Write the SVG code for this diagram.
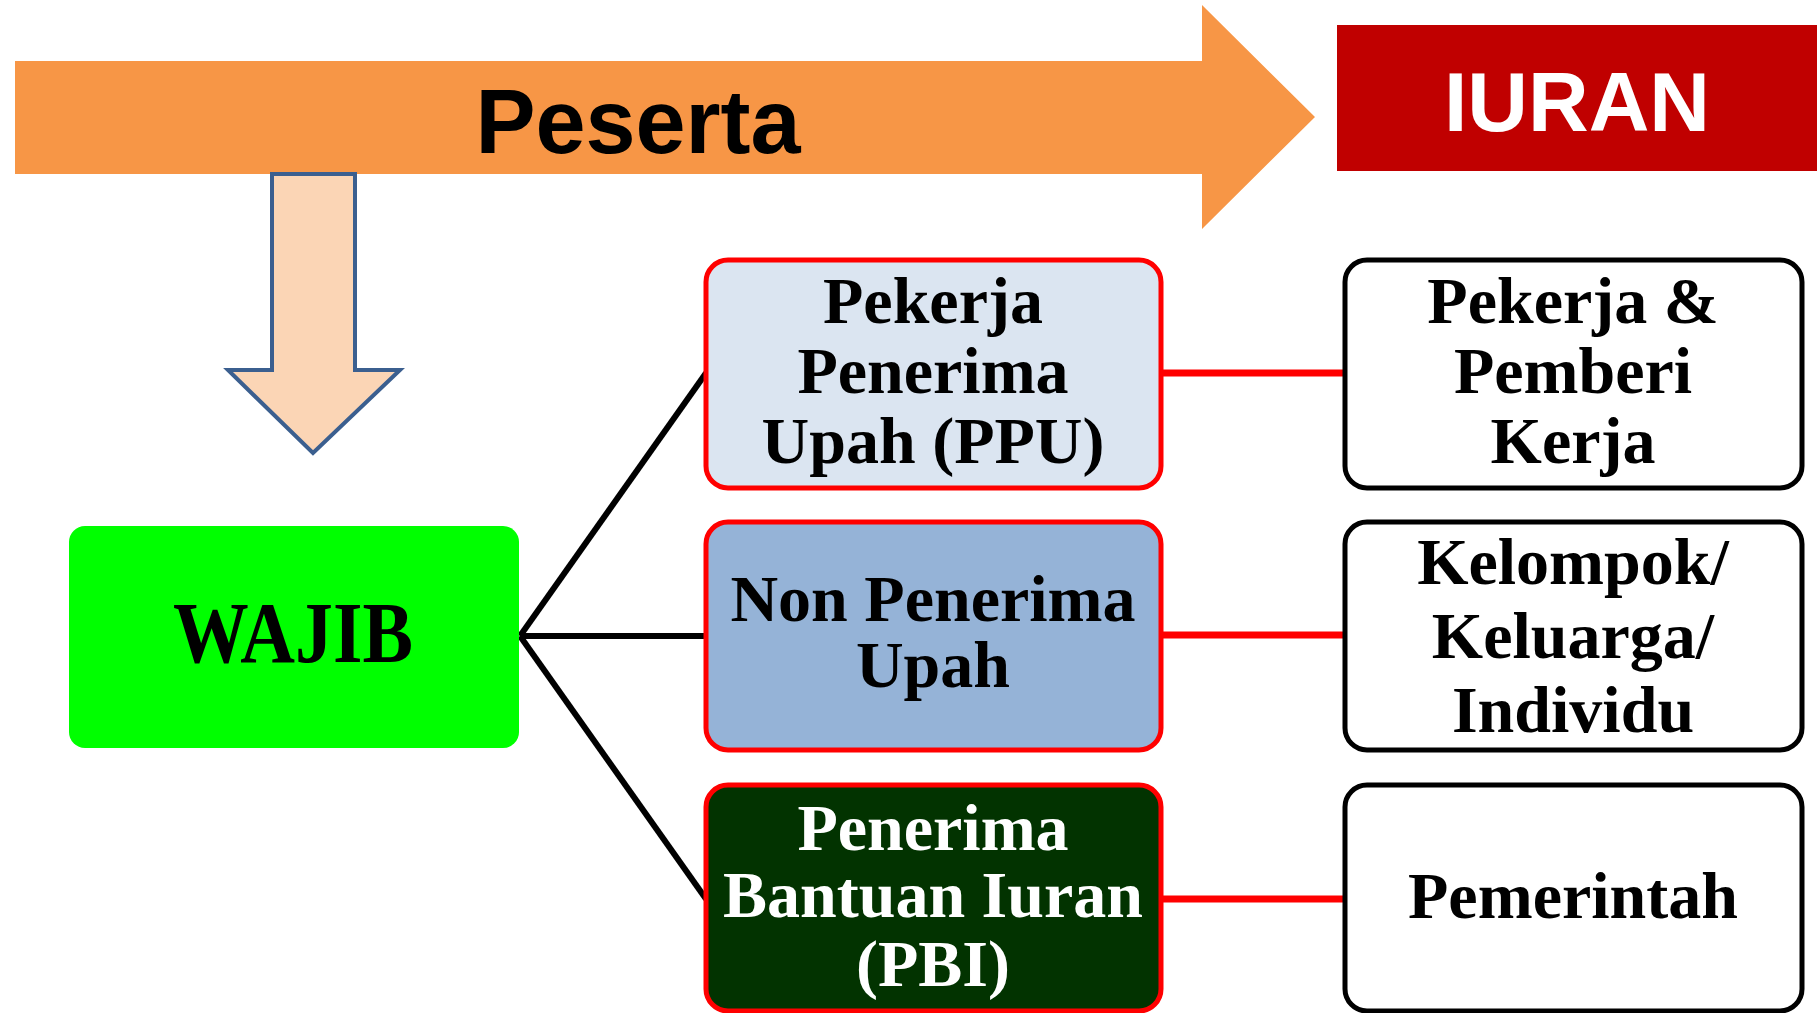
<svg xmlns="http://www.w3.org/2000/svg" width="1817" height="1013" viewBox="0 0 1817 1013">
  <style>
    .sans { font-family: "Liberation Sans", Arial, sans-serif; font-weight: bold; }
    .serif { font-family: "Liberation Serif", "Times New Roman", serif; font-weight: bold; font-size: 66px; text-anchor: middle; }
    .mid { fill: #000; }
    .white { fill: #fff; }
    .redbox { stroke: #FF0000; stroke-width: 5; }
    .blackbox { fill: #fff; stroke: #000; stroke-width: 5; }
    .link { stroke: #000; stroke-width: 6; fill: none; }
    .redlink { stroke: #FF0000; stroke-width: 7; fill: none; }
  </style>
  <rect width="1817" height="1013" fill="#fff"/>

  <g id="peserta-arrow">
    <polygon points="15,61 1202,61 1202,5 1315,117 1202,229 1202,174 15,174" fill="#F79646"/>
    <text x="638" y="153" class="sans" font-size="90" text-anchor="middle" fill="#000">Peserta</text>
  </g>

  <g id="iuran">
    <rect x="1337" y="25" width="480" height="146" fill="#C00000"/>
    <text x="1577" y="131" class="sans" font-size="84" text-anchor="middle" fill="#fff">IURAN</text>
  </g>

  <g id="down-arrow">
    <polygon points="272,174 355,174 355,370 400,370 313,453 228,370 272,370" fill="#FBD5B5" stroke="#3B5F8F" stroke-width="4" stroke-linejoin="miter"/>
  </g>

  <g id="connectors">
    <line x1="520" y1="636" x2="706" y2="373" class="link"/>
    <line x1="520" y1="636" x2="706" y2="636" class="link"/>
    <line x1="520" y1="636" x2="706" y2="899" class="link"/>
    <line x1="1161" y1="373" x2="1344" y2="373" class="redlink"/>
    <line x1="1161" y1="635" x2="1344" y2="635" class="redlink"/>
    <line x1="1161" y1="899" x2="1344" y2="899" class="redlink"/>
  </g>

  <g id="wajib">
    <rect x="69" y="526" width="450" height="222" rx="16" fill="#00FF00"/>
    <text x="293" y="662" class="serif" textLength="240" lengthAdjust="spacingAndGlyphs" fill="#000" style="font-size:86px">WAJIB</text>
  </g>

  <g id="ppu">
    <rect x="706" y="260" width="455" height="228" rx="22" fill="#DBE5F1" class="redbox"/>
    <text class="serif mid"><tspan x="933" y="323">Pekerja</tspan><tspan x="933" y="393">Penerima</tspan><tspan x="933" y="463">Upah (PPU)</tspan></text>
  </g>

  <g id="non-ppu">
    <rect x="706" y="522" width="455" height="228" rx="22" fill="#95B3D7" class="redbox"/>
    <text class="serif mid"><tspan x="933" y="621">Non Penerima</tspan><tspan x="933" y="687">Upah</tspan></text>
  </g>

  <g id="pbi">
    <rect x="706" y="785" width="455" height="226" rx="22" fill="#023300" class="redbox"/>
    <text class="serif white"><tspan x="933" y="850">Penerima</tspan><tspan x="933" y="917">Bantuan Iuran</tspan><tspan x="933" y="986">(PBI)</tspan></text>
  </g>

  <g id="pekerja-pemberi">
    <rect x="1345" y="260" width="457" height="228" rx="22" class="blackbox"/>
    <text class="serif mid"><tspan x="1573" y="323">Pekerja &amp;</tspan><tspan x="1573" y="393">Pemberi</tspan><tspan x="1573" y="463">Kerja</tspan></text>
  </g>

  <g id="kelompok">
    <rect x="1345" y="522" width="457" height="228" rx="22" class="blackbox"/>
    <text class="serif mid"><tspan x="1573" y="584">Kelompok/</tspan><tspan x="1573" y="658">Keluarga/</tspan><tspan x="1573" y="732">Individu</tspan></text>
  </g>

  <g id="pemerintah">
    <rect x="1345" y="785" width="457" height="226" rx="22" class="blackbox"/>
    <text class="serif mid"><tspan x="1573" y="918">Pemerintah</tspan></text>
  </g>
</svg>
